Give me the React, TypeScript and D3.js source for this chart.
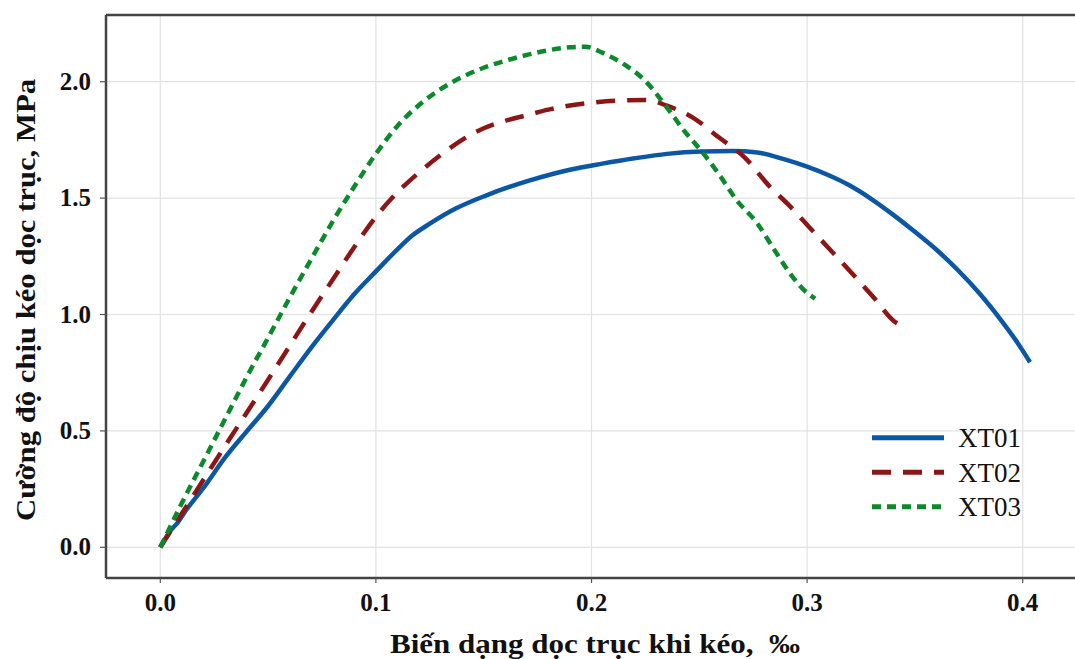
import React from "react";
import * as d3 from "d3";

type Pt = [number, number];

const xTicks = [0.0, 0.1, 0.2, 0.3, 0.4];
const yTicks = [0.0, 0.5, 1.0, 1.5, 2.0];
const seriesNames = ["XT01", "XT02", "XT03"];
const xTitle = "Biến dạng dọc trục khi kéo,\u00a0 ‰";
const yTitle = "Cường độ chịu kéo dọc trục, MPa";

const xt01: Pt[] = [
  [0, 0], [0.005, 0.075], [0.008, 0.105], [0.012, 0.16], [0.02, 0.255],
  [0.03, 0.385], [0.04, 0.497], [0.05, 0.607], [0.06, 0.733], [0.07, 0.858],
  [0.08, 0.975], [0.09, 1.088], [0.1, 1.185], [0.11, 1.28], [0.117, 1.34],
  [0.125, 1.39], [0.137, 1.455], [0.151, 1.511], [0.171, 1.575], [0.19, 1.622],
  [0.205, 1.648], [0.22, 1.671], [0.235, 1.69], [0.251, 1.7], [0.265, 1.702],
  [0.277, 1.696], [0.29, 1.665], [0.3, 1.635], [0.31, 1.598], [0.32, 1.553],
  [0.33, 1.495], [0.34, 1.428], [0.35, 1.355], [0.36, 1.278], [0.37, 1.19],
  [0.38, 1.09], [0.39, 0.975], [0.3975, 0.88], [0.4034, 0.795],
];

const xt02: Pt[] = [
  [0, 0], [0.01, 0.145], [0.02, 0.29], [0.03, 0.435], [0.04, 0.577],
  [0.05, 0.72], [0.06, 0.865], [0.07, 1.01], [0.08, 1.15], [0.09, 1.29],
  [0.1, 1.42], [0.11, 1.525], [0.12, 1.61], [0.13, 1.685], [0.14, 1.75],
  [0.15, 1.8], [0.16, 1.832], [0.17, 1.856], [0.18, 1.88], [0.19, 1.898],
  [0.2, 1.91], [0.211, 1.918], [0.225, 1.921], [0.235, 1.897], [0.247, 1.846],
  [0.259, 1.761], [0.271, 1.675], [0.283, 1.546], [0.291, 1.475], [0.301, 1.375],
  [0.311, 1.275], [0.321, 1.175], [0.331, 1.072], [0.3405, 0.97], [0.3431, 0.955],
];

const xt03: Pt[] = [
  [0, 0], [0.01, 0.19], [0.02, 0.37], [0.03, 0.55], [0.04, 0.73],
  [0.05, 0.9], [0.06, 1.072], [0.07, 1.238], [0.08, 1.4], [0.09, 1.55],
  [0.1, 1.69], [0.11, 1.81], [0.12, 1.9], [0.13, 1.968], [0.14, 2.02],
  [0.15, 2.06], [0.16, 2.09], [0.17, 2.115], [0.18, 2.135], [0.19, 2.148],
  [0.197, 2.15], [0.205, 2.125], [0.215, 2.075], [0.225, 2.003], [0.235, 1.889],
  [0.243, 1.789], [0.251, 1.702], [0.259, 1.604], [0.267, 1.495], [0.277, 1.39],
  [0.285, 1.275], [0.293, 1.165], [0.298, 1.11], [0.3037, 1.068],
];

const seriesData = [xt01, xt02, xt03];
const colors = ["#0b57a5", "#8c1616", "#0c8a2b"];
const dashes = ["", "19,12", "9,6"];

const W = 1075;
const H = 659;
const frameLeft = 106;
const frameTop = 15;
const frameBottom = 578;

export default function App() {
  const x = d3.scaleLinear().domain([0, 0.4]).range([160.3, 1022.7]);
  const y = d3.scaleLinear().domain([0, 2]).range([547.3, 81.7]);
  const line = d3
    .line<Pt>()
    .x((d) => x(d[0]))
    .y((d) => y(d[1]))
    .curve(d3.curveMonotoneX);

  const font = "'Liberation Serif', 'Times New Roman', Times, serif";

  return (
    <svg
      width={W}
      height={H}
      style={{ position: "absolute", left: 0, top: 0, background: "#fff", fontFamily: font }}
    >
      <rect x={0} y={0} width={W} height={H} fill="#fff" />
      {xTicks.map((t) => (
        <line key={"gx" + t} x1={x(t)} x2={x(t)} y1={frameTop} y2={frameBottom} stroke="#e2e2e2" strokeWidth={1.2} />
      ))}
      {yTicks.map((t) => (
        <line key={"gy" + t} x1={frameLeft} x2={W} y1={y(t)} y2={y(t)} stroke="#e2e2e2" strokeWidth={1.2} />
      ))}
      {seriesData.map((s, i) => (
        <path
          key={"s" + i}
          d={line(s) || ""}
          fill="none"
          stroke={colors[i]}
          strokeWidth={4.5}
          strokeDasharray={dashes[i] || undefined}
          strokeLinejoin="round"
        />
      ))}
      <line x1={frameLeft} x2={W} y1={frameTop} y2={frameTop} stroke="#444" strokeWidth={2.5} />
      <line x1={frameLeft} x2={W} y1={frameBottom} y2={frameBottom} stroke="#444" strokeWidth={2.5} />
      <line x1={frameLeft} x2={frameLeft} y1={frameTop} y2={frameBottom} stroke="#444" strokeWidth={2.5} />
      {xTicks.map((t) => (
        <g key={"tx" + t}>
          <line x1={x(t)} x2={x(t)} y1={frameBottom} y2={frameBottom + 5} stroke="#555" strokeWidth={1.2} />
          <text
            x={x(t)}
            y={611}
            textAnchor="middle"
            style={{ fontFamily: font, fontWeight: "bold", fontSize: 25 }}
            fill="#111"
          >
            {t.toFixed(1)}
          </text>
        </g>
      ))}
      {yTicks.map((t) => (
        <g key={"ty" + t}>
          <line x1={frameLeft - 6} x2={frameLeft} y1={y(t)} y2={y(t)} stroke="#555" strokeWidth={1.2} />
          <text
            x={91}
            y={y(t) + 8}
            textAnchor="end"
            style={{ fontFamily: font, fontWeight: "bold", fontSize: 25 }}
            fill="#111"
          >
            {t.toFixed(1)}
          </text>
        </g>
      ))}
      <text
        x={595}
        y={653}
        textAnchor="middle"
        style={{ fontFamily: font, fontWeight: "bold", fontSize: 28 }}
        fill="#111"
        textLength={410}
        lengthAdjust="spacingAndGlyphs"
      >
        {xTitle}
      </text>
      <text
        transform="translate(35,300) rotate(-90)"
        textAnchor="middle"
        style={{ fontFamily: font, fontWeight: "bold", fontSize: 27 }}
        fill="#111"
        textLength={442}
        lengthAdjust="spacingAndGlyphs"
      >
        {yTitle}
      </text>
      {seriesNames.map((n, i) => {
        const ly = 437.7 + i * 34.5;
        return (
          <g key={"lg" + n}>
            <line
              x1={872}
              x2={944}
              y1={ly}
              y2={ly}
              stroke={colors[i]}
              strokeWidth={5}
              strokeDasharray={dashes[i] || undefined}
            />
            <text x={958} y={ly + 9.5} style={{ fontFamily: font, fontSize: 27 }} fill="#111">
              {n}
            </text>
          </g>
        );
      })}
    </svg>
  );
}
